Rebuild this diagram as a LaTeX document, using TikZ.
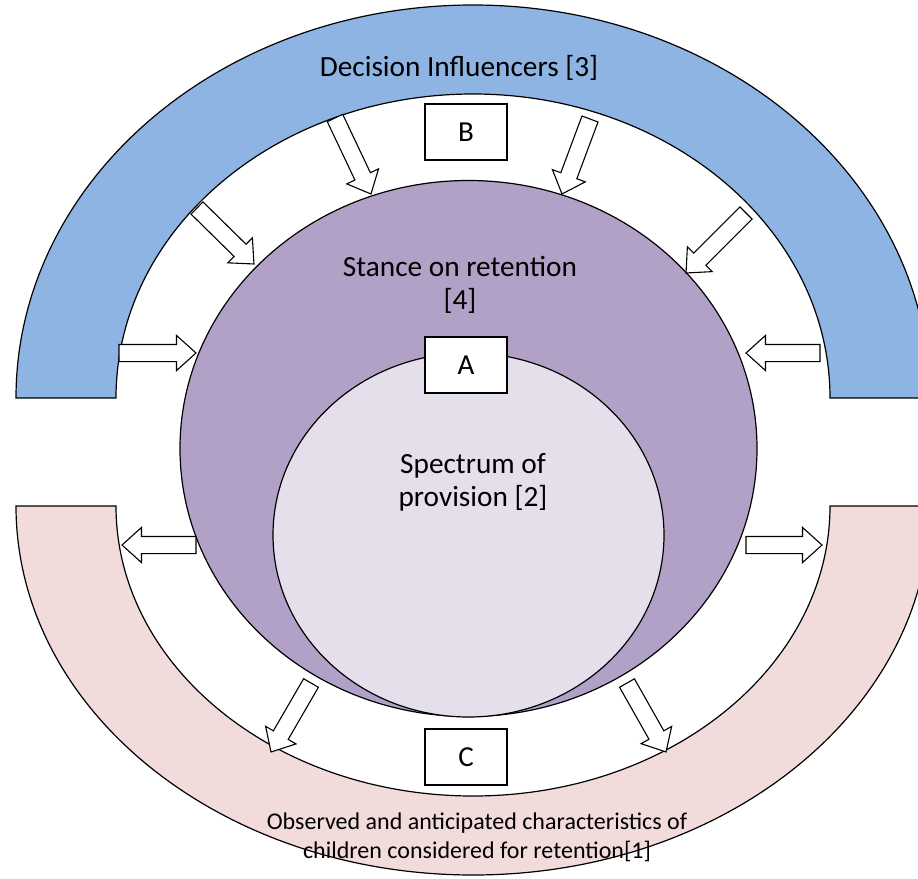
\documentclass[tikz,border=0pt]{standalone}
\usepackage{fontspec}
\setmainfont{Carlito}
\usetikzlibrary{shapes.arrows,calc}

\definecolor{influencerblue}{HTML}{8EB4E3}
\definecolor{stancepurple}{HTML}{B2A1C7}
\definecolor{provisionlilac}{HTML}{E5DFEC}
\definecolor{childpink}{HTML}{F2DCDB}

\tikzset{
  ringline/.style={draw=black, line width=1.2pt},
  letterbox/.style={draw=black, fill=white, line width=1.2pt, minimum width=82pt,
    minimum height=56pt, inner sep=0pt, font=\fontsize{29}{34}\selectfont},
  blockarrow/.style={single arrow, draw=black, fill=white, line width=1.1pt,
    inner xsep=0pt, inner ysep=8pt, outer sep=0pt, single arrow head extend=9pt,
    single arrow tip angle=84},
  bigtext/.style={align=center, font=\fontsize{29.3}{33}\selectfont},
  smalltext/.style={align=center, font=\fontsize{24}{29}\selectfont}
}

% hollow block arrow from one named coordinate to another
\newcommand{\pusharrow}[3]{%
  \path let \p1=($(#3)-(#2)$), \n1={veclen(\x1,\y1)}, \n2={atan2(\y1,\x1)} in
    node[blockarrow, minimum height=\n1, rotate=\n2, anchor=tail] (#1) at (#2) {};
}

\begin{document}
\begin{tikzpicture}[x=1pt, y=-1pt]
  \useasboundingbox (0,0) rectangle (918,878);

  % outer rings
  \filldraw[ringline, fill=influencerblue] (16,398)
    arc[start angle=180, end angle=360, x radius=457, y radius=393] -- (830,398)
    arc[start angle=0, end angle=-180, x radius=357, y radius=304] -- cycle;
  \filldraw[ringline, fill=childpink] (16,506)
    arc[start angle=180, end angle=0, x radius=457, y radius=369] -- (830,506)
    arc[start angle=0, end angle=180, x radius=357, y radius=290] -- cycle;

  % stance and provision
  \filldraw[ringline, fill=stancepurple] (468.5,448.5) ellipse [x radius=288.5, y radius=268];
  \filldraw[ringline, fill=provisionlilac] (468.5,535) ellipse [x radius=195.5, y radius=182];

  % letter boxes
  \node[letterbox] (boxB) at (466,132) {B};
  \node[letterbox] (boxA) at (466,365) {A};
  \node[letterbox] (boxC) at (466,757) {C};

  % arrow ends
  \coordinate (in1s) at (335,118);  \coordinate (in1e) at (371,194);
  \coordinate (in2s) at (197,208);  \coordinate (in2e) at (254,264);
  \coordinate (in3s) at (119,353);  \coordinate (in3e) at (196,353);
  \coordinate (in4s) at (590,119);  \coordinate (in4e) at (562,194);
  \coordinate (in5s) at (746,213);  \coordinate (in5e) at (686,273);
  \coordinate (in6s) at (820,353);  \coordinate (in6e) at (746,353);
  \coordinate (out1s) at (196,545); \coordinate (out1e) at (122,545);
  \coordinate (out2s) at (746,545); \coordinate (out2e) at (822,545);
  \coordinate (out3s) at (311,683); \coordinate (out3e) at (271,752);
  \coordinate (out4s) at (627,683); \coordinate (out4e) at (666,752);

  \pusharrow{in1}{in1s}{in1e}
  \pusharrow{in2}{in2s}{in2e}
  \pusharrow{in3}{in3s}{in3e}
  \pusharrow{in4}{in4s}{in4e}
  \pusharrow{in5}{in5s}{in5e}
  \pusharrow{in6}{in6s}{in6e}
  \pusharrow{out1}{out1s}{out1e}
  \pusharrow{out2}{out2s}{out2e}
  \pusharrow{out3}{out3s}{out3e}
  \pusharrow{out4}{out4s}{out4e}

  % labels
  \node[bigtext] (influencers) at (459,68) {Decision Influencers [3]};
  \node[bigtext] (stance) at (460,285) {Stance on retention\\{[4]}};
  \node[bigtext] (spectrum) at (473,482) {Spectrum of\\provision [2]};
  \node[smalltext] (observed) at (477,837) {Observed and anticipated characteristics of\\children considered for retention[1]};
\end{tikzpicture}
\end{document}
